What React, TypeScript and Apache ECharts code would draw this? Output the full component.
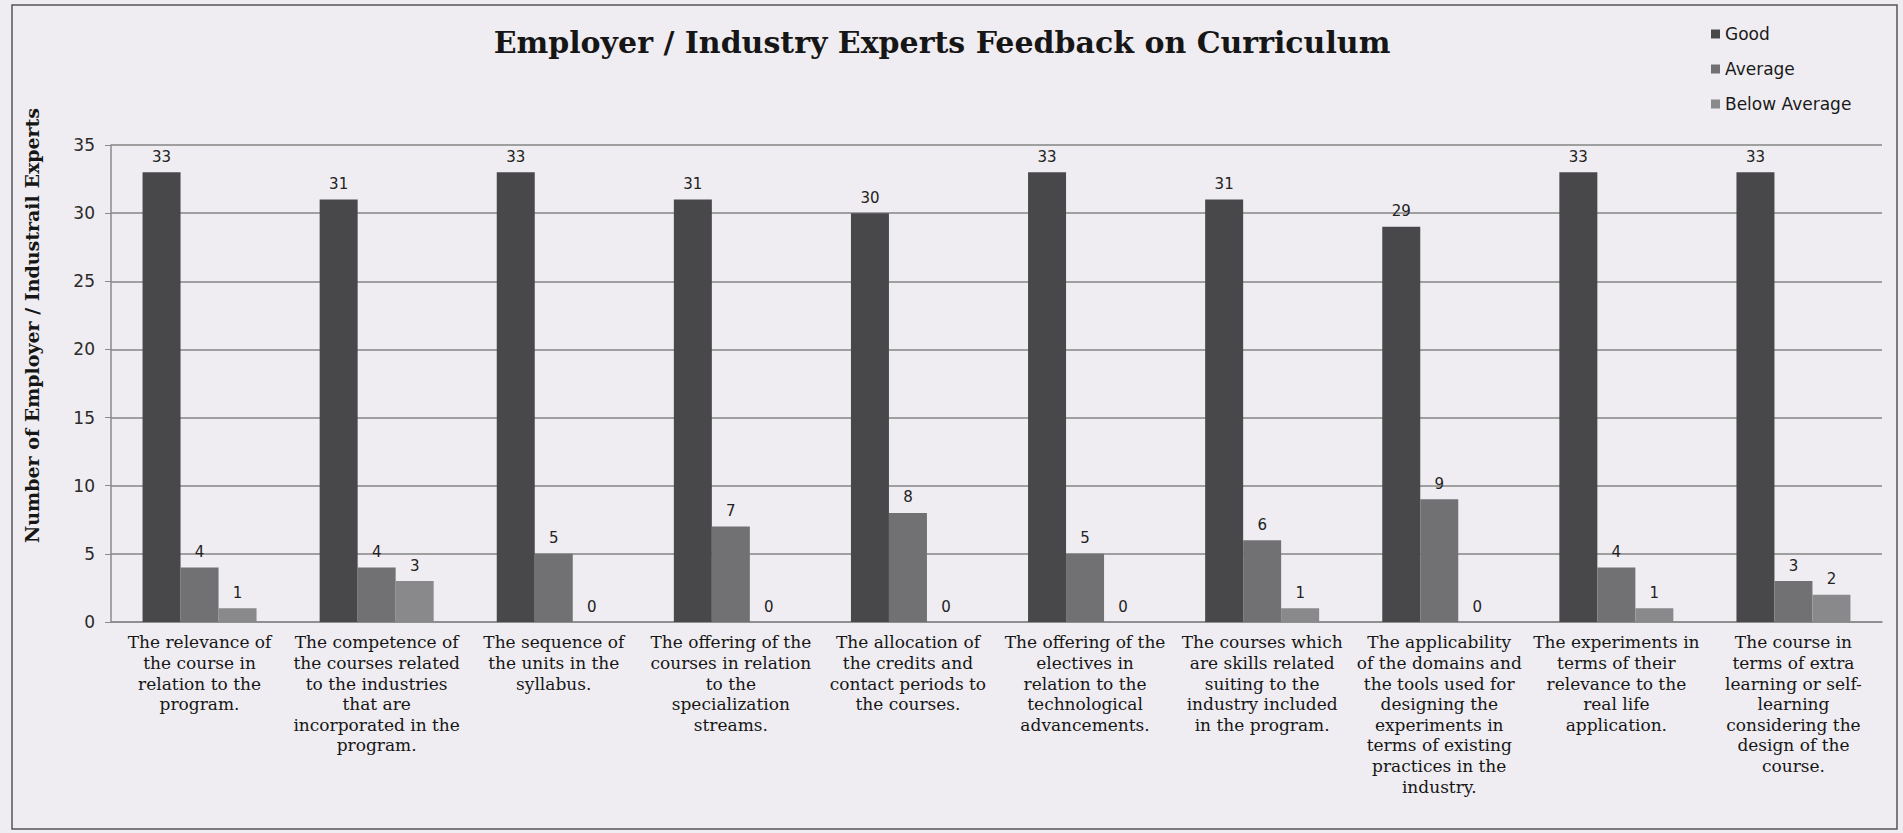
import React, { useEffect, useRef } from "react";
import * as echarts from "echarts";

const categories: string[] = [
  "The relevance of\nthe course in\nrelation to the\nprogram.",
  "The competence of\nthe courses related\nto the industries\nthat are\nincorporated in the\nprogram.",
  "The sequence of\nthe units in the\nsyllabus.",
  "The offering of the\ncourses in relation\nto the\nspecialization\nstreams.",
  "The allocation of\nthe credits and\ncontact periods to\nthe courses.",
  "The offering of the\nelectives in\nrelation to the\ntechnological\nadvancements.",
  "The courses which\nare skills related\nsuiting to the\nindustry included\nin the program.",
  "The applicability\nof the domains and\nthe tools used for\ndesigning the\nexperiments in\nterms of existing\npractices in the\nindustry.",
  "The experiments in\nterms of their\nrelevance to the\nreal life\napplication.",
  "The course in\nterms of extra\nlearning or self-\nlearning\nconsidering the\ndesign of the\ncourse.",
];

const good: number[] = [33, 31, 33, 31, 30, 33, 31, 29, 33, 33];
const average: number[] = [4, 4, 5, 7, 8, 5, 6, 9, 4, 3];
const belowAverage: number[] = [1, 3, 0, 0, 0, 0, 1, 0, 1, 2];

const seriesNames: string[] = ["Good", "Average", "Below Average"];
const titleText = "Employer / Industry Experts Feedback on Curriculum";
const yAxisName = "Number of Employer / Industrail Experts";

export default function App() {
  const ref = useRef<HTMLDivElement>(null);

  useEffect(() => {
    if (!ref.current) return;
    const chart = echarts.init(ref.current, undefined, { renderer: "svg" });
    const sans = "DejaVu Sans";
    const serif = "DejaVu Serif";
    const colors = ["#48484b", "#717174", "#89898c"];
    const label = {
      show: true,
      position: "top" as const,
      distance: 8,
      color: "#222",
      fontFamily: sans,
      fontSize: 15,
    };
    const mk = (name: string, data: number[], i: number) => ({
      name,
      type: "bar" as const,
      data,
      barWidth: 38,
      barGap: "0%",
      itemStyle: { color: colors[i] },
      label,
    });
    chart.setOption({
      animation: false,
      backgroundColor: "#efedf1",
      title: {
        text: titleText,
        left: 937,
        top: 22,
        textAlign: "center",
        textStyle: {
          fontFamily: serif,
          fontWeight: "bold",
          fontSize: 30,
          color: "#161616",
        },
      },
      legend: {
        orient: "vertical",
        left: 1706,
        top: 18,
        itemWidth: 9,
        itemHeight: 9,
        itemGap: 13,
        icon: "rect",
        textStyle: {
          fontFamily: sans,
          fontSize: 17,
          lineHeight: 22,
          color: "#1a1a1a",
        },
        data: seriesNames,
      },
      graphic: [
        {
          type: "rect",
          shape: { x: 12, y: 5, width: 1885, height: 824 },
          style: { fill: "none", stroke: "#555", lineWidth: 1.5 },
          silent: true,
        },
      ],
      grid: { left: 111, right: 21, top: 145, bottom: 211 },
      xAxis: {
        type: "category",
        data: categories,
        axisLine: { show: true, lineStyle: { color: "#8a8a8a", width: 1.5 } },
        axisTick: { show: false },
        axisLabel: {
          interval: 0,
          margin: 10,
          fontFamily: serif,
          fontSize: 17,
          lineHeight: 20.6,
          color: "#161616",
          align: "center",
        },
      },
      yAxis: {
        type: "value",
        min: 0,
        max: 35,
        interval: 5,
        name: yAxisName,
        nameLocation: "middle",
        nameGap: 70,
        nameTextStyle: {
          fontFamily: serif,
          fontWeight: "bold",
          fontSize: 19,
          color: "#161616",
          padding: [0, 0, 0, 116],
        },
        axisLine: { show: true, lineStyle: { color: "#8a8a8a", width: 1.5 } },
        axisTick: { show: true, length: 6, lineStyle: { color: "#8a8a8a" } },
        axisLabel: {
          margin: 16,
          fontFamily: sans,
          fontSize: 17,
          color: "#2a2a2a",
        },
        splitLine: { show: true, lineStyle: { color: "#858585", width: 1.5 } },
      },
      series: [
        mk(seriesNames[0], good, 0),
        mk(seriesNames[1], average, 1),
        mk(seriesNames[2], belowAverage, 2),
      ],
    });
    return () => chart.dispose();
  }, []);

  return (
    <div
      ref={ref}
      style={{ position: "absolute", left: 0, top: 0, width: 1903, height: 833 }}
    />
  );
}
